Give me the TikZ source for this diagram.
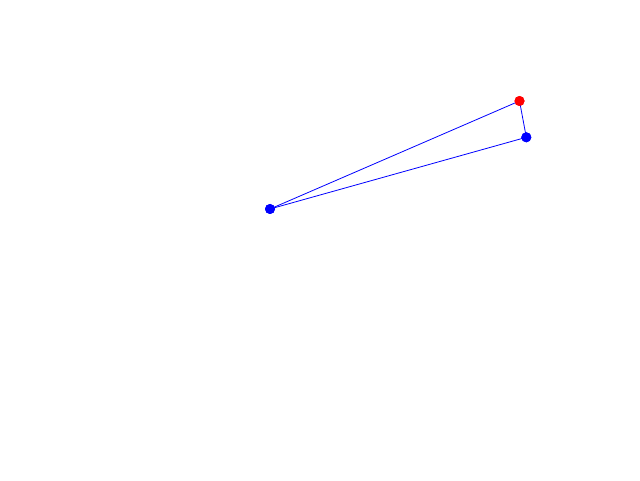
\documentclass[tikz,border=0pt]{standalone}
\begin{document}
\begin{tikzpicture}[x=1pt,y=1pt,
  dotnode/.style={circle,inner sep=0pt,minimum size=10pt},
  edge/.style={draw=blue,line width=0.8pt}]
\useasboundingbox (0,0) rectangle (640,480);
\node[dotnode,fill=blue] (a) at (270,271) {};
\node[dotnode,fill=red] (b) at (519.5,379) {};
\node[dotnode,fill=blue] (c) at (526.3,342.7) {};
\begin{scope}[on background layer/.style={}]
\end{scope}
\draw[edge] (a.center) -- (b.center);
\draw[edge] (b.center) -- (c.center);
\draw[edge] (c.center) -- (a.center);
\fill[red] (b) circle (5pt);
\fill[blue] (a) circle (5pt);
\fill[blue] (c) circle (5pt);
\end{tikzpicture}
\end{document}
